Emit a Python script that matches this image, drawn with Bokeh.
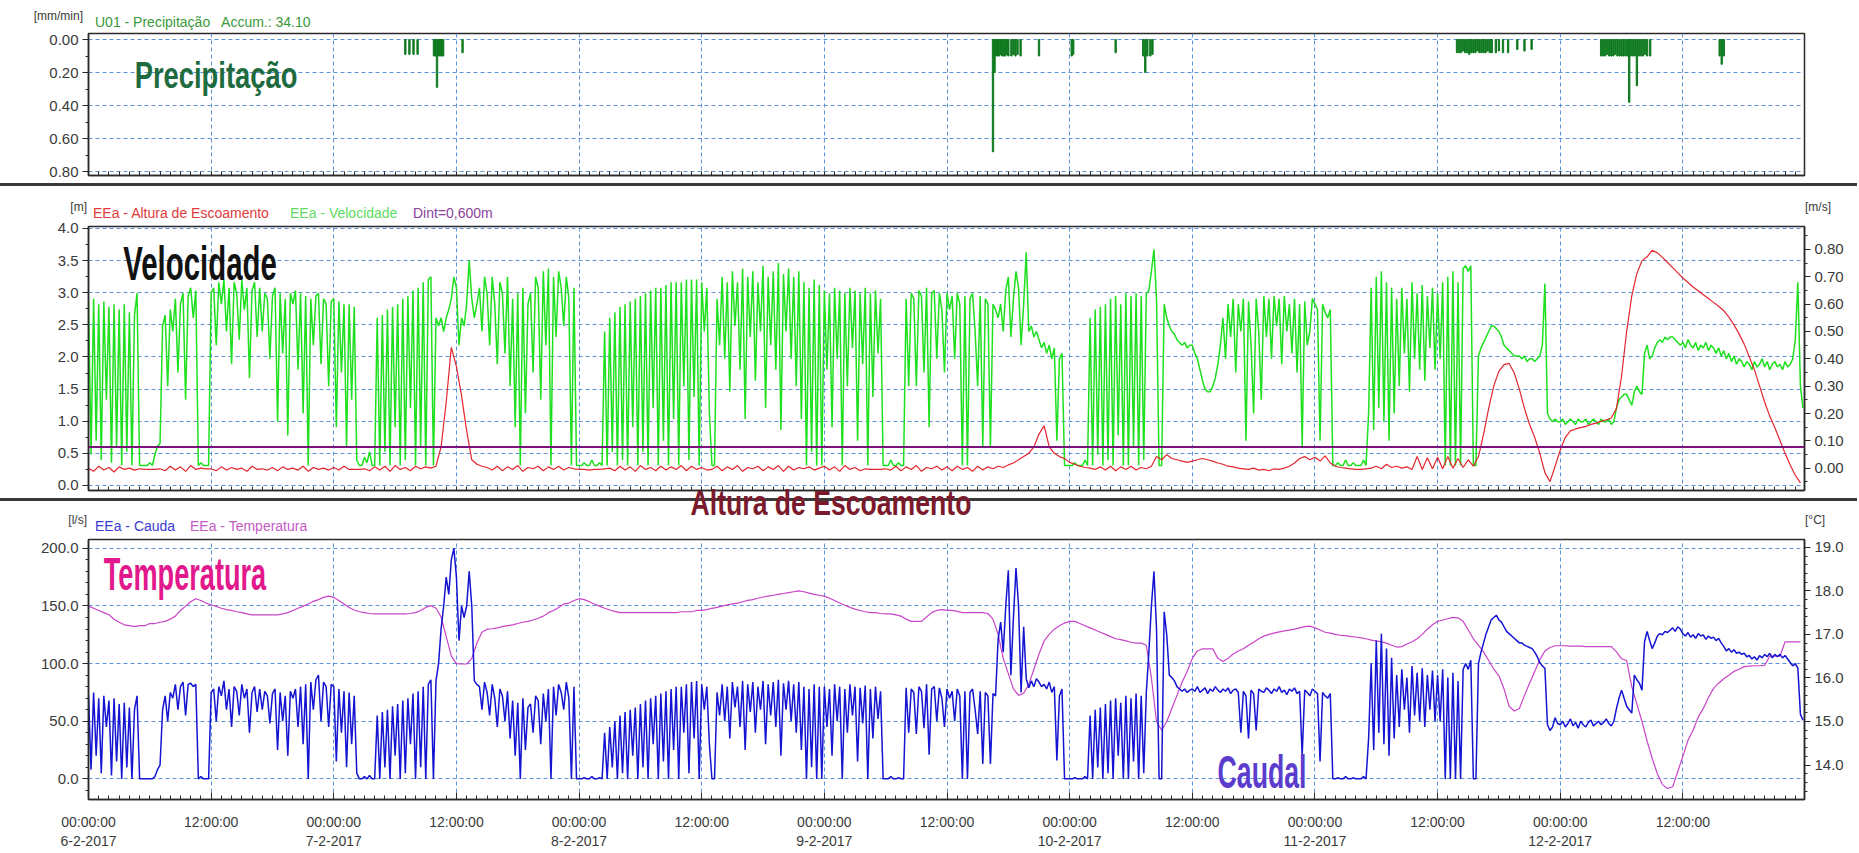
import numpy as np
from bokeh.plotting import figure
from bokeh.layouts import column
from bokeh.models import (Range1d, LinearAxis, FixedTicker, SingleIntervalTicker,
                          NumeralTickFormatter, Span, Grid, Div)
from bokeh.embed import file_html
from bokeh.resources import INLINE

# ------------------------------------------------------------------ data
# time axis: hours since 6-2-2017 00:00 ; each block below covers 12 hours
MAJOR_TICKS = [0, 12, 24, 36, 48, 60, 72, 84, 96, 108, 120, 132, 144, 156]
TICK_LABELS = ["00:00:00\n6-2-2017", "12:00:00", "00:00:00\n7-2-2017", "12:00:00",
               "00:00:00\n8-2-2017", "12:00:00", "00:00:00\n9-2-2017", "12:00:00",
               "00:00:00\n10-2-2017", "12:00:00", "00:00:00\n11-2-2017", "12:00:00",
               "00:00:00\n12-2-2017", "12:00:00"]
X_END = 167.9

# precipitation (mm/min)
PRECIP_H = [31.0, 31.4, 31.8, 32.2, 33.8, 33.95, 34.1, 34.25, 34.4, 34.55, 34.7, 36.6,
            88.5, 88.65, 88.8, 88.95, 89.1, 89.25, 89.4, 89.55, 89.7, 89.85, 90.0, 90.3, 90.5, 90.7, 90.9, 91.2,
            93.0, 96.2, 96.35, 100.5, 103.2, 103.4, 103.6, 103.9, 104.1,
            133.9, 134.1, 134.3, 134.5, 134.7, 134.9, 135.1, 135.3, 135.5, 135.7, 135.9, 136.1, 136.3, 136.5,
            136.7, 136.9, 137.1, 137.3, 137.7, 138.0, 138.4, 138.9, 139.8, 140.5, 141.2,
            148.0, 148.2, 148.4, 148.6, 148.8, 149.0, 149.2, 149.4, 149.6, 149.8, 150.0, 150.2, 150.4, 150.6,
            150.75, 150.9, 151.1, 151.3, 151.5, 151.7, 151.9, 152.1, 152.3, 152.5, 152.8,
            159.6, 159.8, 160.0]
PRECIP_V = [0.09, 0.09, 0.09, 0.09, 0.10, 0.10, 0.29, 0.10, 0.10, 0.10, 0.10, 0.08,
            0.68, 0.20, 0.10, 0.10, 0.10, 0.09, 0.10, 0.10, 0.10, 0.09, 0.10, 0.10, 0.09, 0.10, 0.09, 0.10,
            0.10, 0.10, 0.09, 0.08, 0.10, 0.20, 0.10, 0.10, 0.09,
            0.08, 0.08, 0.08, 0.07, 0.08, 0.08, 0.09, 0.08, 0.08, 0.08, 0.07, 0.08, 0.08, 0.08,
            0.08, 0.07, 0.08, 0.08, 0.08, 0.07, 0.08, 0.08, 0.06, 0.07, 0.06,
            0.10, 0.10, 0.10, 0.09, 0.10, 0.10, 0.10, 0.09, 0.10, 0.10, 0.10, 0.10, 0.10, 0.10,
            0.38, 0.10, 0.10, 0.10, 0.28, 0.10, 0.10, 0.10, 0.09, 0.10, 0.10,
            0.10, 0.15, 0.10]

# flow depth, EEa - Altura de Escoamento (m), 0.5 h steps
ALTURA = [
    [0.27,0.22,0.30,0.24,0.28,0.21,0.29,0.25,0.27,0.24,0.26,0.25,0.25,0.25,0.26,0.23,0.30,0.24,0.29,0.22,0.31,0.25,0.27,0.26],
    [0.26,0.23,0.29,0.24,0.28,0.25,0.27,0.22,0.30,0.25,0.26,0.24,0.28,0.23,0.29,0.25,0.27,0.24,0.30,0.22,0.28,0.25,0.27,0.24],
    [0.28,0.24,0.30,0.25,0.25,0.25,0.26,0.23,0.29,0.24,0.30,0.22,0.31,0.25,0.28,0.23,0.30,0.26,0.29,0.27,0.30,0.60,1.30,2.15],
    [1.85,1.40,0.85,0.40,0.33,0.30,0.28,0.24,0.30,0.23,0.29,0.25,0.31,0.22,0.28,0.26,0.30,0.23,0.29,0.25,0.30,0.24,0.28,0.26],
    [0.25,0.25,0.24,0.25,0.25,0.26,0.27,0.23,0.30,0.24,0.29,0.22,0.31,0.25,0.28,0.23,0.30,0.24,0.29,0.25,0.31,0.23,0.30,0.25],
    [0.28,0.24,0.25,0.30,0.23,0.29,0.25,0.31,0.22,0.28,0.26,0.30,0.23,0.29,0.25,0.31,0.22,0.30,0.24,0.28,0.26,0.29,0.24,0.27],
    [0.30,0.24,0.29,0.22,0.31,0.25,0.28,0.23,0.26,0.25,0.25,0.25,0.26,0.24,0.30,0.23,0.29,0.25,0.31,0.22,0.28,0.26,0.30,0.24],
    [0.29,0.23,0.30,0.25,0.28,0.22,0.30,0.24,0.29,0.26,0.30,0.28,0.32,0.35,0.40,0.45,0.50,0.60,0.80,0.93,0.60,0.50,0.45,0.42],
    [0.36,0.33,0.30,0.28,0.27,0.25,0.29,0.24,0.30,0.23,0.29,0.25,0.30,0.24,0.28,0.26,0.30,0.45,0.40,0.48,0.42,0.40,0.38,0.36],
    [0.38,0.40,0.42,0.40,0.38,0.35,0.33,0.30,0.29,0.27,0.26,0.25,0.27,0.24,0.25,0.23,0.26,0.25,0.27,0.30,0.35,0.42,0.45,0.40],
    [0.44,0.38,0.46,0.35,0.30,0.28,0.27,0.26,0.25,0.25,0.26,0.27,0.30,0.26,0.33,0.28,0.30,0.27,0.29,0.25,0.45,0.25,0.43,0.26],
    [0.44,0.26,0.45,0.27,0.42,0.28,0.40,0.30,0.45,0.80,1.20,1.55,1.78,1.88,1.90,1.75,1.50,1.20,0.95,0.75,0.50,0.20,0.06,0.30],
    [0.55,0.75,0.85,0.88,0.90,0.92,0.95,0.97,1.00,1.02,1.05,1.20,1.70,2.40,2.95,3.30,3.50,3.56,3.66,3.62,3.55,3.47,3.39,3.31],
    [3.23,3.16,3.09,3.03,2.97,2.91,2.85,2.79,2.72,2.62,2.50,2.36,2.20,2.00,1.80,1.55,1.30,1.08,0.90,0.70,0.50,0.32,0.16,0.04],
]

# velocity, EEa - Velocidade (m/s), 0.25 h steps
VELOCIDADE = [
    [0.61,0.05,0.62,0.10,0.60,0.03,0.61,0.25,0.59,0.02,0.60,0.08,0.58,0.01,0.60,0.06,0.57,0.01,0.56,0.64,0.01,0.01,0.01,0.01,0.02,0.01,0.05,0.08,0.09,0.52,0.56,0.30,0.58,0.50,0.62,0.35,0.60,0.64,0.25,0.63,0.66,0.55,0.65,0.01,0.02,0.01,0.01,0.01],
    [0.64,0.66,0.45,0.68,0.60,0.69,0.50,0.66,0.38,0.68,0.64,0.47,0.69,0.58,0.66,0.33,0.65,0.68,0.48,0.66,0.50,0.64,0.62,0.40,0.63,0.66,0.17,0.64,0.42,0.62,0.12,0.64,0.60,0.65,0.36,0.64,0.20,0.63,0.01,0.62,0.45,0.63,0.64,0.38,0.62,0.60,0.30,0.61],
    [0.62,0.15,0.61,0.35,0.60,0.08,0.60,0.25,0.59,0.03,0.01,0.01,0.04,0.02,0.06,0.01,0.01,0.55,0.01,0.56,0.06,0.58,0.01,0.59,0.15,0.60,0.01,0.62,0.03,0.63,0.22,0.65,0.01,0.66,0.08,0.68,0.01,0.69,0.70,0.01,0.55,0.52,0.55,0.50,0.55,0.58,0.62,0.70],
    [0.66,0.45,0.55,0.52,0.60,0.76,0.62,0.55,0.60,0.66,0.50,0.70,0.64,0.45,0.70,0.60,0.38,0.68,0.64,0.42,0.70,0.30,0.62,0.15,0.64,0.01,0.66,0.20,0.60,0.64,0.35,0.70,0.66,0.25,0.72,0.45,0.73,0.01,0.70,0.48,0.72,0.66,0.52,0.70,0.62,0.01,0.66,0.01],
    [0.01,0.01,0.02,0.01,0.01,0.03,0.01,0.01,0.02,0.01,0.50,0.01,0.55,0.06,0.57,0.01,0.59,0.03,0.60,0.01,0.61,0.15,0.62,0.01,0.63,0.06,0.64,0.01,0.65,0.22,0.66,0.01,0.66,0.10,0.67,0.01,0.68,0.18,0.68,0.01,0.68,0.30,0.69,0.03,0.69,0.26,0.69,0.01],
    [0.68,0.50,0.66,0.20,0.01,0.01,0.62,0.45,0.70,0.40,0.68,0.28,0.72,0.52,0.68,0.36,0.73,0.18,0.70,0.48,0.72,0.32,0.68,0.50,0.74,0.22,0.70,0.45,0.72,0.36,0.75,0.14,0.71,0.50,0.73,0.40,0.70,0.30,0.72,0.18,0.68,0.01,0.66,0.06,0.69,0.01,0.67,0.01],
    [0.65,0.36,0.64,0.15,0.66,0.40,0.65,0.01,0.64,0.30,0.66,0.44,0.65,0.10,0.64,0.38,0.66,0.01,0.64,0.26,0.65,0.42,0.62,0.01,0.01,0.01,0.03,0.01,0.01,0.02,0.01,0.01,0.62,0.30,0.64,0.62,0.30,0.65,0.63,0.35,0.66,0.15,0.64,0.65,0.40,0.64,0.58,0.35],
    [0.64,0.58,0.63,0.40,0.64,0.60,0.01,0.63,0.01,0.62,0.64,0.50,0.30,0.63,0.08,0.62,0.60,0.08,0.60,0.58,0.55,0.60,0.50,0.65,0.70,0.48,0.62,0.72,0.66,0.45,0.60,0.79,0.50,0.52,0.48,0.50,0.47,0.44,0.46,0.42,0.45,0.40,0.44,0.10,0.40,0.42,0.01,0.01],
    [0.01,0.01,0.02,0.01,0.01,0.01,0.03,0.01,0.55,0.01,0.58,0.05,0.59,0.01,0.60,0.03,0.62,0.01,0.63,0.12,0.60,0.01,0.64,0.01,0.63,0.08,0.64,0.01,0.63,0.03,0.64,0.65,0.72,0.80,0.62,0.01,0.01,0.60,0.55,0.52,0.50,0.49,0.47,0.46,0.45,0.46,0.44,0.45],
    [0.45,0.42,0.40,0.36,0.32,0.29,0.28,0.28,0.30,0.33,0.38,0.45,0.55,0.40,0.60,0.48,0.62,0.35,0.60,0.50,0.62,0.10,0.61,0.45,0.20,0.62,0.50,0.25,0.63,0.48,0.62,0.40,0.63,0.52,0.62,0.38,0.63,0.50,0.60,0.42,0.62,0.35,0.60,0.08,0.61,0.45,0.50,0.62],
    [0.60,0.58,0.10,0.60,0.57,0.55,0.58,0.01,0.01,0.02,0.01,0.01,0.03,0.01,0.01,0.02,0.01,0.01,0.01,0.03,0.01,0.20,0.66,0.14,0.70,0.22,0.72,0.17,0.68,0.10,0.66,0.20,0.62,0.30,0.66,0.42,0.62,0.28,0.68,0.40,0.64,0.36,0.67,0.32,0.63,0.44,0.66,0.36],
    [0.64,0.40,0.68,0.01,0.70,0.01,0.72,0.01,0.68,0.01,0.73,0.74,0.72,0.74,0.01,0.01,0.41,0.44,0.46,0.48,0.50,0.52,0.52,0.51,0.50,0.48,0.45,0.44,0.43,0.42,0.41,0.41,0.41,0.40,0.41,0.39,0.40,0.40,0.39,0.40,0.41,0.45,0.675,0.20,0.18,0.17,0.18,0.17],
    [0.17,0.18,0.16,0.17,0.18,0.17,0.16,0.18,0.17,0.17,0.18,0.16,0.17,0.18,0.17,0.16,0.18,0.17,0.17,0.18,0.16,0.17,0.22,0.25,0.26,0.27,0.27,0.25,0.23,0.28,0.30,0.28,0.27,0.42,0.45,0.40,0.41,0.44,0.46,0.47,0.46,0.48,0.47,0.48,0.48,0.47,0.46,0.45],
    [0.46,0.44,0.47,0.45,0.44,0.46,0.43,0.45,0.44,0.46,0.43,0.45,0.44,0.42,0.44,0.41,0.43,0.40,0.42,0.39,0.41,0.38,0.40,0.39,0.37,0.39,0.38,0.36,0.39,0.37,0.38,0.40,0.37,0.39,0.36,0.38,0.39,0.37,0.38,0.36,0.39,0.37,0.38,0.40,0.47,0.68,0.30,0.22],
]

# flow, EEa - Caudal (l/s), 0.25 h steps
CAUDAL = [
    [72,8,75,20,70,5,72,45,68,3,70,15,65,0,66,10,62,0,60,72,0,0,0,0,0,0,2,8,12,60,72,50,75,70,82,60,80,84,55,82,83,80,82,0,2,0,0,0],
    [75,78,50,80,72,85,60,78,45,80,76,55,82,70,78,40,75,80,58,78,60,76,72,48,74,78,25,75,50,72,20,76,70,78,45,80,30,82,0,84,60,86,90,50,84,80,45,82],
    [80,15,78,40,76,10,75,30,72,5,0,0,2,0,3,0,0,55,0,58,10,60,0,63,20,65,0,68,5,70,30,74,0,76,10,80,0,82,86,0,85,100,130,150,175,160,190,200],
    [175,120,150,140,150,180,150,85,82,80,60,84,75,55,82,70,45,78,72,50,76,35,68,20,66,0,70,25,62,65,40,72,68,30,74,50,78,0,80,55,82,75,60,84,70,0,80,0],
    [0,0,1,0,0,2,0,0,1,0,40,0,45,10,50,0,55,5,58,0,60,20,62,0,65,10,68,0,70,30,72,0,74,15,76,0,78,25,80,0,80,40,82,5,84,35,85,0],
    [82,60,80,30,0,0,75,55,82,50,80,35,84,62,80,45,85,25,82,58,84,40,80,60,85,30,82,55,84,45,86,20,83,60,85,50,82,40,84,25,80,0,78,10,82,0,80,0],
    [80,45,78,20,82,50,80,0,78,40,82,55,80,15,79,48,81,0,78,35,80,52,76,0,0,0,2,0,0,1,0,0,79,40,78,75,39,80,76,44,82,21,78,80,50,79,70,45],
    [78,70,76,50,78,72,0,76,0,75,78,60,39,76,13,75,72,13,74,72,121,136,110,150,181,90,140,183,150,75,132,87,79,85,80,87,84,80,82,78,84,75,80,16,72,78,0,0],
    [0,0,1,0,0,0,2,0,55,0,60,10,62,0,65,5,68,0,70,20,66,0,72,0,70,15,74,0,72,5,75,110,150,180,130,0,0,145,125,90,88,85,80,78,76,78,75,77],
    [78,76,80,75,77,79,74,78,76,80,77,75,78,76,79,74,77,78,75,40,76,72,35,77,74,42,78,76,75,79,77,74,78,76,80,75,77,73,78,76,79,74,76,20,77,75,72,78],
    [76,74,15,75,72,70,74,0,0,1,0,0,2,0,0,1,0,0,0,2,0,35,100,25,120,40,126,30,113,20,105,35,90,45,95,60,88,40,98,55,92,50,96,45,90,60,94,50],
    [90,50,95,0,88,0,92,0,85,0,95,100,95,103,0,0,100,110,118,126,132,138,140,142,138,136,132,128,126,124,122,120,118,118,116,115,114,113,110,106,101,98,96,47,42,45,53,48],
    [47,50,45,48,52,46,49,44,50,47,45,49,51,46,48,50,47,49,52,48,46,50,61,70,77,70,63,60,57,90,86,83,77,119,128,120,113,118,124,126,125,128,127,129,131,128,132,130],
    [126,124,127,123,125,122,126,124,125,121,124,122,123,120,122,118,115,111,113,110,112,109,110,108,109,106,107,104,106,103,107,105,108,106,109,105,108,106,108,105,107,104,101,98,100,96,56,51],
]

# water temperature, EEa - Temperatura (°C), 0.5 h steps
TEMPERATURA = [
    [17.65,17.6,17.55,17.5,17.45,17.35,17.28,17.22,17.2,17.18,17.2,17.2,17.25,17.25,17.28,17.3,17.35,17.42,17.55,17.65,17.75,17.82,17.78,17.72],
    [17.68,17.64,17.6,17.57,17.55,17.52,17.5,17.47,17.45,17.45,17.45,17.45,17.45,17.45,17.47,17.5,17.55,17.6,17.65,17.7,17.76,17.8,17.85,17.88],
    [17.85,17.78,17.7,17.62,17.56,17.52,17.5,17.48,17.47,17.47,17.47,17.47,17.47,17.47,17.47,17.48,17.5,17.55,17.62,17.66,17.6,17.4,16.95,16.5],
    [16.33,16.32,16.32,16.45,16.8,17.05,17.12,17.13,17.15,17.18,17.2,17.22,17.25,17.28,17.3,17.33,17.37,17.42,17.5,17.55,17.62,17.7,17.72,17.78],
    [17.82,17.8,17.75,17.7,17.65,17.6,17.56,17.53,17.5,17.5,17.5,17.5,17.5,17.5,17.5,17.5,17.5,17.5,17.5,17.5,17.52,17.52,17.52,17.55],
    [17.55,17.57,17.6,17.62,17.65,17.68,17.7,17.72,17.75,17.78,17.8,17.83,17.86,17.88,17.9,17.92,17.94,17.96,17.98,18.0,17.98,17.95,17.92,17.9],
    [17.88,17.83,17.78,17.72,17.67,17.62,17.58,17.55,17.52,17.5,17.5,17.48,17.47,17.47,17.45,17.42,17.35,17.3,17.3,17.3,17.4,17.5,17.55,17.57],
    [17.55,17.55,17.53,17.5,17.5,17.5,17.5,17.5,17.48,17.35,17.0,16.45,16.1,15.75,15.6,15.65,15.85,16.2,16.55,16.85,17.0,17.12,17.2,17.26],
    [17.3,17.3,17.25,17.2,17.15,17.1,17.05,17.0,16.95,16.9,16.88,16.85,16.82,16.8,16.8,16.75,16.0,15.0,14.8,15.0,15.3,15.6,15.9,16.15],
    [16.45,16.62,16.67,16.67,16.67,16.45,16.38,16.45,16.55,16.62,16.67,16.75,16.82,16.9,16.96,17.0,17.03,17.06,17.08,17.1,17.12,17.15,17.18,17.19],
    [17.15,17.1,17.05,17.03,17.0,16.98,16.97,16.95,16.94,16.92,16.9,16.87,16.85,16.83,16.8,16.75,16.71,16.72,16.78,16.83,16.9,17.0,17.12,17.22],
    [17.3,17.33,17.36,17.39,17.38,17.3,17.1,16.9,16.75,16.6,16.4,16.2,16.05,15.75,15.35,15.24,15.3,15.6,15.88,16.15,16.42,16.62,16.7,16.74],
    [16.74,16.74,16.73,16.73,16.73,16.72,16.72,16.72,16.72,16.72,16.72,16.6,16.44,16.4,15.8,15.4,15.0,14.55,14.15,13.8,13.55,13.46,13.5,13.85],
    [14.2,14.57,14.8,15.1,15.3,15.55,15.76,15.88,15.98,16.06,16.15,16.2,16.26,16.27,16.28,16.28,16.29,16.5,16.5,16.5,16.83,16.83,16.83,16.83],
]

DINT_M = 0.600

# ------------------------------------------------------------------ helpers
def expand(blocks):
    t, v = [], []
    for k, blk in enumerate(blocks):
        n = len(blk)
        for i, val in enumerate(blk):
            t.append(k * 12 + i * 12.0 / n)
            v.append(val)
    return t, v

W = 1857
FONT = "Liberation Sans"
CSS_FONT = "'Liberation Sans', Arial, sans-serif"
GRID_COLOR = "#5d93d8"
AXIS_COLOR = "#2a2a2a"
LABEL_COLOR = "#3a3a3a"


def base_fig(height, top, bottom, yr):
    p = figure(width=W, height=height, x_range=Range1d(0, X_END), y_range=yr,
               x_axis_type=None, y_axis_type=None,
               output_backend="svg", toolbar_location=None,
               min_border_left=88, min_border_right=W - 1804,
               min_border_top=top, min_border_bottom=bottom)
    p.outline_line_color = AXIS_COLOR
    p.outline_line_width = 1.5
    p.background_fill_color = "white"
    p.border_fill_color = "white"
    return p


def add_xaxis(p, show_labels):
    minor = list(range(0, 168))
    tk = FixedTicker(ticks=MAJOR_TICKS if show_labels else [], minor_ticks=minor)
    ax = LinearAxis(ticker=tk)
    ax.major_tick_in = 7
    ax.major_tick_out = 0
    ax.minor_tick_in = 4
    ax.minor_tick_out = 0
    ax.axis_line_color = AXIS_COLOR
    ax.axis_line_width = 1.5
    ax.major_tick_line_color = AXIS_COLOR
    ax.minor_tick_line_color = AXIS_COLOR
    if show_labels:
        ax.major_label_overrides = {t: s for t, s in zip(MAJOR_TICKS, TICK_LABELS)}
        ax.major_label_text_font_size = "14px"
        ax.major_label_text_font = FONT
        ax.major_label_text_color = LABEL_COLOR
        ax.major_label_standoff = 14
    else:
        ax.major_label_standoff = 0
    p.add_layout(ax, "below")
    p.add_layout(Grid(dimension=0, ticker=FixedTicker(ticks=MAJOR_TICKS),
                      grid_line_color=GRID_COLOR, grid_line_dash="4 3", grid_line_width=1))


def add_yaxis(p, side, ticker, fmt, range_name="default", grid=False):
    ax = LinearAxis(ticker=ticker, formatter=NumeralTickFormatter(format=fmt),
                    y_range_name=range_name)
    ax.major_tick_out = 6
    ax.major_tick_in = 0
    ax.minor_tick_out = 3
    ax.minor_tick_in = 0
    ax.axis_line_color = AXIS_COLOR
    ax.axis_line_width = 1.5
    ax.major_tick_line_color = AXIS_COLOR
    ax.minor_tick_line_color = AXIS_COLOR
    ax.major_label_text_font_size = "15px"
    ax.major_label_text_font = FONT
    ax.major_label_text_color = LABEL_COLOR
    ax.major_label_standoff = 4
    p.add_layout(ax, side)
    if grid:
        p.add_layout(Grid(dimension=1, ticker=ticker, y_range_name=range_name,
                          grid_line_color=GRID_COLOR, grid_line_dash="4 3", grid_line_width=1))


def span_html(text, color, size, left=None, right=None, top=0, bold=False, scale=None):
    pos = f"left:{left}px;" if left is not None else f"right:{right}px;"
    tr = f"transform:translateX(-50%) scaleX({scale});" if scale is not None else ""
    weight = "font-weight:bold;" if bold else ""
    return (f'<span style="position:absolute;{pos}top:{top}px;{tr}z-index:5;font-family:{CSS_FONT};'
            f'font-size:{size}px;line-height:{size}px;{weight}color:{color};white-space:pre;">{text}</span>')


def big_text(text, color, size, scale, center_x, baseline_y, div_top):
    # baseline of Liberation Sans sits ~0.847 em below the top of a 1 em line box
    top = round(baseline_y - 0.847 * size - div_top, 1)
    return span_html(text, color, size, left=center_x, top=top, bold=True, scale=scale)


def header(height, spans, sep_top=None):
    inner = ""
    if sep_top is not None:
        inner += (f'<div style="position:absolute;left:0;top:{sep_top}px;width:{W}px;height:3px;'
                  f'background:#3a3a3a;"></div>')
    inner += "".join(spans)
    html = (f'<div style="position:relative;display:block;width:{W}px;height:{height}px;'
            f'overflow:visible;">{inner}</div>')
    return Div(text=html, width=W, height=height, margin=(0, 0, 0, 0),
               styles={"overflow": "visible", "font-size": "0px", "line-height": "0px"})

# page rows (y of top edge): h1 0, p1 31, sep1 183, h2 186, p2 218, h_alt 498, h3 516, p3 537, tail 851

# ------------------------------------------------------------------ header 1
h1 = header(31, [
    span_html("[mm/min]", LABEL_COLOR, 12, right=W - 83, top=10),
    span_html("U01 - Precipitação   Accum.: 34.10", "#3a9a3a", 14, left=95, top=15),
])

# ------------------------------------------------------------------ panel 1 : precipitation
p1 = base_fig(152, 2, 8, Range1d(start=0.824, end=-0.0364))
add_xaxis(p1, False)
add_yaxis(p1, "left", SingleIntervalTicker(interval=0.2, num_minor_ticks=2), "0.00", grid=True)
p1.vbar(x=PRECIP_H, top=PRECIP_V, bottom=0, width=0.13, color="#0f7a1f")

sep1 = header(3, [big_text("Precipitação", "#1d6b3f", 36, 0.76, 216, 88, 183)], sep_top=0)

# ------------------------------------------------------------------ header 2
h2 = header(32, [
    span_html("[m]", LABEL_COLOR, 12, right=W - 87, top=15),
    span_html("EEa - Altura de Escoamento", "#e03a3a", 14, left=93, top=20),
    span_html("EEa - Velocidade", "#5fdc5f", 14, left=290, top=20),
    span_html("Dint=0,600m", "#8b3f9b", 14, left=413, top=20),
    span_html("[m/s]", LABEL_COLOR, 12, left=1805, top=15),
])

# ------------------------------------------------------------------ panel 2 : depth / velocity
p2 = base_fig(280, 8, 8, Range1d(start=-0.078, end=4.031))
p2.extra_y_ranges = {"vel": Range1d(start=-0.0816, end=0.884)}
add_xaxis(p2, False)
add_yaxis(p2, "left", SingleIntervalTicker(interval=0.5, num_minor_ticks=2), "0.0", grid=True)
add_yaxis(p2, "right", SingleIntervalTicker(interval=0.1, num_minor_ticks=2), "0.00", range_name="vel")
tv, vv = expand(VELOCIDADE)
p2.line(tv, vv, y_range_name="vel", line_color="#1ee01e", line_width=1.5)
ta, va = expand(ALTURA)
p2.line(ta, va, line_color="#e3262e", line_width=1.2)
p2.add_layout(Span(location=DINT_M, dimension="width", line_color="#7b127b", line_width=2))

# ------------------------------------------------------------------ separator with "Altura de Escoamento"
h_alt = header(18, [
    big_text("Velocidade", "#111111", 49, 0.60, 200, 280, 498),
    big_text("Altura de Escoamento", "#7a1a2c", 35, 0.76, 831, 515, 498),
], sep_top=0)

# ------------------------------------------------------------------ header 3
h3 = header(21, [
    span_html("[l/s]", LABEL_COLOR, 12, right=W - 87, top=-2),
    span_html("EEa - Cauda", "#3b3bd0", 14, left=95, top=3),
    span_html("EEa - Temperatura", "#c45cc4", 14, left=190, top=3),
    span_html("[°C]", LABEL_COLOR, 12, left=1805, top=-2),
])

# ------------------------------------------------------------------ panel 3 : flow / temperature
p3 = base_fig(314, 2, 48, Range1d(start=-17.9, end=207.7))
p3.extra_y_ranges = {"temp": Range1d(start=13.208, end=19.18)}
add_xaxis(p3, True)
add_yaxis(p3, "left", SingleIntervalTicker(interval=50, num_minor_ticks=5), "0.0", grid=True)
add_yaxis(p3, "right", SingleIntervalTicker(interval=1, num_minor_ticks=5), "0.0", range_name="temp")
tt, vt = expand(TEMPERATURA)
p3.line(tt, vt, y_range_name="temp", line_color="#c844c8", line_width=1.2)
tc, vc = expand(CAUDAL)
p3.line(tc, vc, line_color="#1414d2", line_width=1.5)

tail = header(1, [
    big_text("Temperatura", "#e2188c", 46, 0.59, 185, 590, 851),
    big_text("Caudal", "#5b3dce", 46, 0.58, 1262, 788, 851),
])

layout = column(h1, p1, sep1, h2, p2, h_alt, h3, p3, tail, spacing=0)
open("out.html", "w").write(file_html(layout, INLINE))
